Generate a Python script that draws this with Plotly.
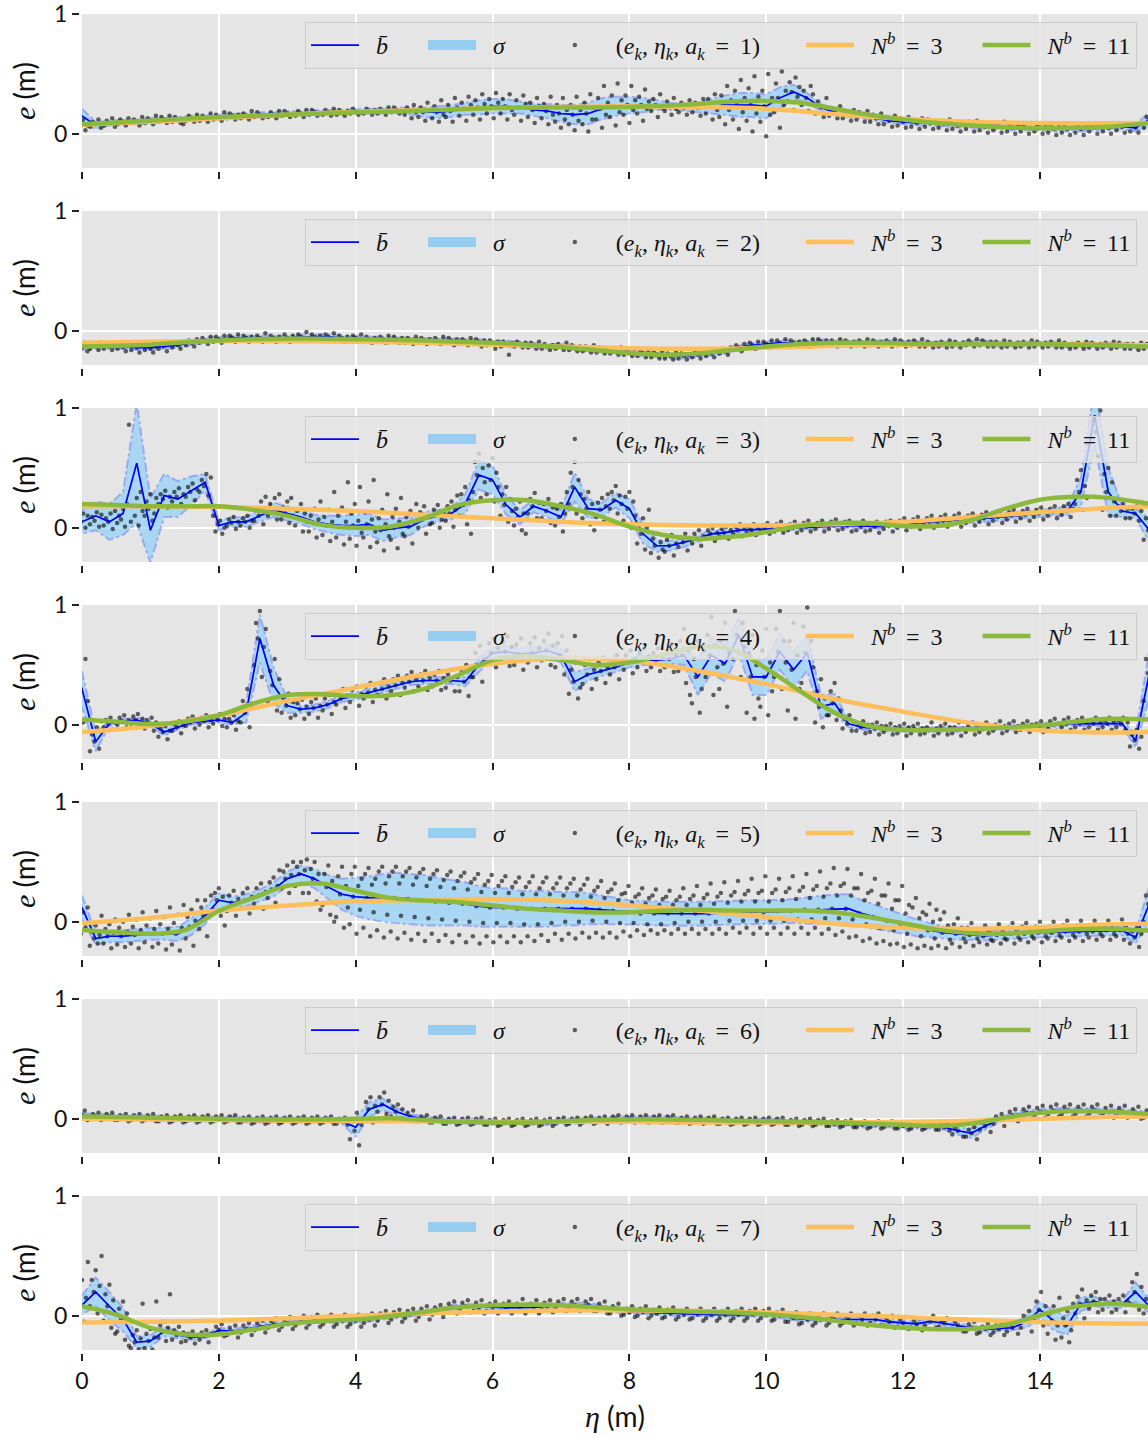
import plotly.graph_objects as go
from plotly.subplots import make_subplots

# ---------------------------------------------------------------------------
# Data: binned mean offset, spread, samples and the two spline fits per action
# ---------------------------------------------------------------------------
ETA = [0.0, 0.2, 0.4, 0.6, 0.8, 1.0, 1.2, 1.4, 1.6, 1.8,
       2.0, 2.2, 2.4, 2.6, 2.8, 3.0, 3.2, 3.4, 3.6, 3.8,
       4.0, 4.2, 4.4, 4.6, 4.8, 5.0, 5.2, 5.4, 5.6, 5.8,
       6.0, 6.2, 6.4, 6.6, 6.8, 7.0, 7.2, 7.4, 7.6, 7.8,
       8.0, 8.2, 8.4, 8.6, 8.8, 9.0, 9.2, 9.4, 9.6, 9.8,
       10.0, 10.2, 10.4, 10.6, 10.8, 11.0, 11.2, 11.4, 11.6, 11.8,
       12.0, 12.2, 12.4, 12.6, 12.8, 13.0, 13.2, 13.4, 13.6, 13.8,
       14.0, 14.2, 14.4, 14.6, 14.8, 15.0, 15.2, 15.4, 15.6]
BIN_WIDTH = 0.2

ETA_N3 = [0, 1, 2, 3, 4, 5, 6, 7, 8, 9, 10, 11, 12, 13, 14, 15, 15.6]
ETA_N11 = [0, 0.5, 1, 1.5, 2, 2.5, 3, 3.5, 4, 4.5, 5, 5.5, 6, 6.5, 7, 7.5,
           8, 8.5, 9, 9.5, 10, 10.5, 11, 11.5, 12, 12.5, 13, 13.5, 14, 14.5,
           15, 15.5, 15.6]

ACTIONS = [1, 2, 3, 4, 5, 6, 7]
X_TICKS = [0, 2, 4, 6, 8, 10, 12, 14]
Y_TICKS = [0, 1]

# ----- a_k = 1 -----
MEAN_A1 = [0.15, 0.07, 0.09, 0.10, 0.10, 0.11, 0.12, 0.12, 0.13, 0.13,
           0.14, 0.15, 0.15, 0.16, 0.16, 0.17, 0.17, 0.18, 0.18, 0.18,
           0.19, 0.19, 0.19, 0.20, 0.19, 0.18, 0.18, 0.19, 0.21, 0.22,
           0.23, 0.23, 0.22, 0.20, 0.19, 0.17, 0.16, 0.17, 0.21, 0.23,
           0.24, 0.24, 0.24, 0.23, 0.22, 0.22, 0.23, 0.24, 0.24, 0.24,
           0.23, 0.30, 0.35, 0.30, 0.22, 0.18, 0.16, 0.15, 0.13, 0.11,
           0.10, 0.09, 0.09, 0.08, 0.07, 0.07, 0.06, 0.06, 0.05, 0.05,
           0.05, 0.04, 0.04, 0.04, 0.05, 0.05, 0.06, 0.05, 0.12]
SIGMA_A1 = [0.06, 0.03, 0.02, 0.02, 0.02, 0.02, 0.02, 0.02, 0.02, 0.02,
            0.02, 0.02, 0.02, 0.02, 0.02, 0.02, 0.02, 0.02, 0.02, 0.02,
            0.02, 0.02, 0.02, 0.02, 0.03, 0.04, 0.05, 0.05, 0.05, 0.06,
            0.06, 0.06, 0.05, 0.05, 0.06, 0.07, 0.08, 0.09, 0.09, 0.08,
            0.07, 0.06, 0.04, 0.03, 0.03, 0.04, 0.06, 0.08, 0.10, 0.10,
            0.10, 0.09, 0.06, 0.04, 0.03, 0.02, 0.02, 0.02, 0.02, 0.02,
            0.02, 0.02, 0.02, 0.02, 0.02, 0.02, 0.02, 0.02, 0.02, 0.02,
            0.02, 0.02, 0.02, 0.02, 0.02, 0.02, 0.02, 0.03, 0.06]
DOTS_A1 = [
    "0.01 0.05 0.09 0.12 0.03 0.07|0.06 0.10 0.08 0.12 0.05|0.07 0.11 0.09 0.13 0.06|0.08 0.12 0.10 0.07 0.13|0.09 0.12 0.10 0.07 0.14|0.09 0.13 0.11 0.08 0.15|0.10 0.14 0.12 0.09 0.15|0.10 0.14 0.12 0.09 0.08|0.11 0.15 0.13 0.10 0.16|0.11 0.15 0.13 0.10 0.17",
    "0.12 0.16 0.14 0.11 0.18|0.13 0.17 0.15 0.12 0.16|0.13 0.17 0.15 0.12 0.19|0.14 0.18 0.16 0.13 0.15|0.14 0.18 0.16 0.13 0.19|0.15 0.19 0.17 0.14 0.16|0.15 0.19 0.17 0.14 0.20|0.16 0.20 0.18 0.15 0.17|0.16 0.20 0.18 0.15 0.21|0.16 0.20 0.18 0.15 0.19",
    "0.17 0.21 0.19 0.16 0.18|0.17 0.21 0.19 0.16 0.20|0.17 0.21 0.19 0.16 0.22|0.18 0.22 0.20 0.17 0.19|0.16 0.22 0.19 0.13 0.24 0.18|0.14 0.22 0.18 0.11 0.26 0.20|0.13 0.23 0.18 0.10 0.28 0.16|0.14 0.24 0.19 0.10 0.30 0.22|0.15 0.26 0.21 0.11 0.31 0.24|0.16 0.28 0.22 0.12 0.33 0.25",
    "0.17 0.29 0.23 0.13 0.34 0.26|0.17 0.29 0.23 0.12 0.33 0.20|0.16 0.28 0.22 0.11 0.32 0.25|0.14 0.26 0.20 0.09 0.30 0.23|0.13 0.25 0.19 0.08 0.31 0.16|0.10 0.24 0.17 0.05 0.30 0.12 0.20|0.08 0.24 0.16 0.03 0.31 0.11 0.20|0.08 0.26 0.17 0.02 0.33 0.12 0.22|0.12 0.30 0.21 0.05 0.40 0.16 0.26|0.14 0.32 0.23 0.07 0.42 0.18 0.28",
    "0.16 0.32 0.24 0.09 0.40 0.20 0.28|0.17 0.31 0.24 0.11 0.37 0.21 0.27|0.19 0.29 0.24 0.14 0.33 0.22|0.19 0.27 0.23 0.16 0.30 0.21|0.18 0.26 0.22 0.16 0.28|0.18 0.26 0.22 0.15 0.29|0.17 0.29 0.23 0.12 0.33 0.20|0.14 0.32 0.24 0.08 0.40 0.20 0.28|0.12 0.36 0.24 0.04 0.45 0.18 0.30|0.11 0.38 0.24 0.02 0.48 0.17 0.31",
    "0.10 0.36 0.23 -0.02 0.50 0.16 0.30|0.18 0.42 0.30 0.05 0.52 0.24 0.36|0.27 0.43 0.35 0.20 0.47 0.31 0.39|0.24 0.36 0.30 0.19 0.40 0.33|0.17 0.27 0.22 0.14 0.30|0.15 0.21 0.18 0.13 0.23|0.13 0.19 0.16 0.11 0.20|0.12 0.18 0.15 0.10 0.19|0.10 0.16 0.13 0.08 0.17|0.08 0.14 0.11 0.06 0.15",
    "0.07 0.13 0.10 0.05 0.14|0.06 0.12 0.09 0.04 0.13|0.06 0.12 0.09 0.04 0.11|0.05 0.11 0.08 0.03 0.12|0.04 0.10 0.07 0.02 0.09|0.04 0.10 0.07 0.02 0.11|0.03 0.09 0.06 0.01 0.08|0.03 0.09 0.06 0.01 0.10|0.02 0.08 0.05 0.00 0.07|0.02 0.08 0.05 0.00 0.09",
    "0.02 0.08 0.05 0.00 0.06|0.01 0.07 0.04 -0.01 0.08|0.01 0.07 0.04 -0.01 0.05|0.01 0.07 0.04 -0.01 0.08|0.02 0.08 0.05 0.00 0.06|0.02 0.08 0.05 0.00 0.09|0.03 0.09 0.06 0.01 0.07|0.02 0.08 0.05 0.01 0.09|0.05 0.14 0.10 0.03 0.16",
]
FIT3_A1 = [0.075, 0.10, 0.13, 0.16, 0.185, 0.20, 0.215, 0.225, 0.23, 0.225,
           0.21, 0.165, 0.125, 0.10, 0.09, 0.088, 0.09]
FIT11_A1 = [0.08, 0.095, 0.11, 0.125, 0.14, 0.15, 0.16, 0.17, 0.18, 0.185,
            0.195, 0.205, 0.215, 0.22, 0.22, 0.22, 0.225, 0.235, 0.25, 0.27,
            0.275, 0.26, 0.21, 0.16, 0.12, 0.09, 0.07, 0.055, 0.047, 0.05,
            0.06, 0.085, 0.09]

# ----- a_k = 2 -----
MEAN_A2 = [-0.14, -0.13, -0.13, -0.13, -0.14, -0.14, -0.13, -0.12, -0.10, -0.08,
           -0.07, -0.06, -0.06, -0.06, -0.06, -0.06, -0.05, -0.05, -0.05, -0.06,
           -0.06, -0.07, -0.07, -0.07, -0.08, -0.08, -0.08, -0.08, -0.09, -0.09,
           -0.10, -0.11, -0.11, -0.12, -0.13, -0.13, -0.14, -0.15, -0.16, -0.17,
           -0.18, -0.19, -0.20, -0.21, -0.21, -0.20, -0.19, -0.17, -0.14, -0.12,
           -0.11, -0.10, -0.10, -0.10, -0.09, -0.10, -0.10, -0.10, -0.10, -0.10,
           -0.10, -0.10, -0.11, -0.11, -0.11, -0.10, -0.10, -0.11, -0.11, -0.11,
           -0.11, -0.11, -0.12, -0.12, -0.12, -0.12, -0.12, -0.13, -0.13]
SIGMA_A2 = [0.02, 0.02, 0.02, 0.02, 0.02, 0.02, 0.02, 0.02, 0.02, 0.02,
            0.02, 0.02, 0.02, 0.02, 0.02, 0.02, 0.02, 0.02, 0.02, 0.02,
            0.02, 0.02, 0.02, 0.02, 0.02, 0.02, 0.02, 0.02, 0.02, 0.02,
            0.02, 0.03, 0.02, 0.02, 0.02, 0.02, 0.02, 0.02, 0.02, 0.02,
            0.02, 0.02, 0.02, 0.02, 0.02, 0.02, 0.02, 0.02, 0.02, 0.02,
            0.02, 0.02, 0.02, 0.02, 0.02, 0.02, 0.02, 0.02, 0.02, 0.02,
            0.02, 0.02, 0.02, 0.02, 0.02, 0.02, 0.02, 0.02, 0.02, 0.02,
            0.02, 0.02, 0.02, 0.02, 0.02, 0.02, 0.02, 0.02, 0.02]
DOTS_A2 = [
    "-0.16 -0.12 -0.14 -0.10 -0.17|-0.15 -0.11 -0.13 -0.16 -0.10|-0.15 -0.11 -0.13 -0.16 -0.12|-0.15 -0.11 -0.14 -0.17 -0.12|-0.16 -0.12 -0.14 -0.18 -0.11|-0.16 -0.12 -0.15 -0.18 -0.13|-0.15 -0.11 -0.13 -0.17 -0.10|-0.14 -0.10 -0.12 -0.15 -0.09|-0.12 -0.08 -0.10 -0.13 -0.07|-0.10 -0.06 -0.08 -0.11 -0.05",
    "-0.09 -0.05 -0.07 -0.10 -0.04|-0.08 -0.04 -0.06 -0.09 -0.03|-0.08 -0.04 -0.06 -0.09 -0.05|-0.08 -0.04 -0.06 -0.09 -0.02|-0.08 -0.04 -0.06 -0.09 -0.05|-0.08 -0.03 -0.06 -0.09 -0.04|-0.07 -0.03 -0.05 -0.08 -0.01|-0.07 -0.03 -0.05 -0.08 -0.04|-0.07 -0.03 -0.05 -0.08 -0.02|-0.08 -0.04 -0.06 -0.09 -0.05",
    "-0.08 -0.04 -0.06 -0.09 -0.03|-0.09 -0.05 -0.07 -0.10 -0.06|-0.09 -0.05 -0.07 -0.10 -0.04|-0.09 -0.05 -0.07 -0.10 -0.06|-0.10 -0.06 -0.08 -0.11 -0.05|-0.10 -0.06 -0.08 -0.11 -0.07|-0.10 -0.06 -0.08 -0.11 -0.05|-0.10 -0.06 -0.08 -0.12 -0.07|-0.11 -0.07 -0.09 -0.12 -0.06|-0.11 -0.07 -0.09 -0.13 -0.08",
    "-0.12 -0.08 -0.10 -0.15 -0.09|-0.13 -0.09 -0.11 -0.20 -0.10|-0.13 -0.09 -0.11 -0.14 -0.10|-0.14 -0.10 -0.12 -0.15 -0.09|-0.15 -0.11 -0.13 -0.16 -0.12|-0.15 -0.11 -0.13 -0.16 -0.10|-0.16 -0.12 -0.14 -0.17 -0.13|-0.17 -0.13 -0.15 -0.18 -0.12|-0.18 -0.14 -0.16 -0.19 -0.15|-0.19 -0.15 -0.17 -0.20 -0.14",
    "-0.20 -0.16 -0.18 -0.21 -0.15|-0.21 -0.17 -0.19 -0.22 -0.16|-0.22 -0.18 -0.20 -0.23 -0.17|-0.23 -0.19 -0.21 -0.24 -0.18|-0.23 -0.19 -0.21 -0.24 -0.20|-0.22 -0.18 -0.20 -0.23 -0.17|-0.21 -0.17 -0.19 -0.22 -0.16|-0.19 -0.15 -0.17 -0.20 -0.14|-0.16 -0.12 -0.14 -0.17 -0.11|-0.14 -0.10 -0.12 -0.15 -0.09",
    "-0.13 -0.09 -0.11 -0.14 -0.08|-0.12 -0.08 -0.10 -0.13 -0.07|-0.12 -0.08 -0.10 -0.13 -0.09|-0.12 -0.08 -0.10 -0.13 -0.07|-0.11 -0.07 -0.09 -0.12 -0.08|-0.12 -0.08 -0.10 -0.13 -0.07|-0.12 -0.08 -0.10 -0.13 -0.09|-0.12 -0.08 -0.10 -0.13 -0.07|-0.12 -0.08 -0.10 -0.13 -0.09|-0.12 -0.08 -0.10 -0.13 -0.07",
    "-0.12 -0.08 -0.10 -0.13 -0.09|-0.12 -0.08 -0.10 -0.13 -0.07|-0.13 -0.09 -0.11 -0.14 -0.10|-0.13 -0.09 -0.11 -0.14 -0.08|-0.13 -0.09 -0.11 -0.14 -0.10|-0.12 -0.08 -0.10 -0.13 -0.07|-0.12 -0.08 -0.10 -0.13 -0.09|-0.13 -0.09 -0.11 -0.14 -0.08|-0.13 -0.09 -0.11 -0.14 -0.10|-0.13 -0.09 -0.11 -0.14 -0.08",
    "-0.13 -0.09 -0.11 -0.14 -0.10|-0.13 -0.09 -0.11 -0.14 -0.08|-0.14 -0.10 -0.12 -0.15 -0.11|-0.14 -0.10 -0.12 -0.15 -0.09|-0.14 -0.10 -0.12 -0.15 -0.11|-0.14 -0.10 -0.12 -0.15 -0.09|-0.14 -0.10 -0.12 -0.15 -0.11|-0.15 -0.11 -0.13 -0.16 -0.10|-0.15 -0.11 -0.13 -0.16 -0.12",
]
FIT3_A2 = [-0.10, -0.09, -0.085, -0.085, -0.09, -0.10, -0.115, -0.13, -0.145,
           -0.15, -0.14, -0.125, -0.115, -0.11, -0.11, -0.115, -0.12]
FIT11_A2 = [-0.13, -0.125, -0.115, -0.095, -0.08, -0.07, -0.065, -0.065, -0.07,
            -0.075, -0.08, -0.09, -0.10, -0.115, -0.135, -0.16, -0.185, -0.20,
            -0.19, -0.16, -0.13, -0.11, -0.10, -0.10, -0.105, -0.11, -0.11,
            -0.11, -0.11, -0.115, -0.12, -0.13, -0.13]

# ----- a_k = 3 -----
MEAN_A3 = [0.05, 0.10, 0.05, 0.12, 0.54, -0.02, 0.27, 0.24, 0.31, 0.38,
           0.02, 0.05, 0.05, 0.10, 0.15, 0.12, 0.09, 0.05, 0.03, 0.02,
           0.02, 0.03, -0.02, 0.00, 0.01, 0.07, 0.10, 0.12, 0.20, 0.44,
           0.40, 0.19, 0.09, 0.18, 0.14, 0.09, 0.34, 0.16, 0.15, 0.23,
           0.16, -0.05, -0.15, -0.15, -0.12, -0.09, -0.05, -0.04, -0.02, -0.015,
           -0.005, 0.00, 0.005, 0.01, 0.015, 0.02, 0.02, 0.015, 0.01, 0.02,
           0.025, 0.04, 0.05, 0.06, 0.065, 0.07, 0.08, 0.09, 0.10, 0.11,
           0.12, 0.13, 0.14, 0.30, 0.94, 0.30, 0.14, 0.12, -0.02]
SIGMA_A3 = [0.10, 0.12, 0.15, 0.18, 0.50, 0.27, 0.18, 0.15, 0.12, 0.07,
            0.04, 0.04, 0.04, 0.05, 0.06, 0.06, 0.06, 0.06, 0.07, 0.08,
            0.09, 0.09, 0.09, 0.08, 0.07, 0.06, 0.05, 0.05, 0.08, 0.12,
            0.12, 0.08, 0.06, 0.05, 0.05, 0.06, 0.12, 0.08, 0.06, 0.06,
            0.08, 0.08, 0.05, 0.04, 0.04, 0.03, 0.03, 0.03, 0.02, 0.02,
            0.02, 0.02, 0.02, 0.02, 0.02, 0.02, 0.02, 0.02, 0.02, 0.02,
            0.02, 0.02, 0.02, 0.02, 0.02, 0.03, 0.03, 0.03, 0.03, 0.03,
            0.03, 0.03, 0.04, 0.12, 0.25, 0.20, 0.05, 0.04, 0.10]
DOTS_A3 = [
    "0.02 0.08 0.05 0.12 0.00 0.10|0.03 0.09 0.06 0.13 0.01 0.11|0.02 0.08 0.05 0.12 -0.01 0.14|0.04 0.10 0.07 0.16 0.01 0.20 0.86|0.05 0.18 0.10 0.25 0.02 0.30 0.14|0.10 0.22 0.16 0.28 0.06 0.12 0.25|0.20 0.28 0.24 0.31 0.17 0.26|0.22 0.30 0.26 0.33 0.20 0.28|0.26 0.34 0.30 0.37 0.23 0.32|0.30 0.40 0.35 0.45 0.27 0.42",
    "0.10 -0.03 0.03 0.06 -0.05 0.00|0.02 0.07 0.04 0.09 -0.01 0.05|0.02 0.08 0.05 0.10 0.00 0.06|0.06 0.16 0.10 0.22 0.03 0.26|0.10 0.20 0.15 0.25 0.07 0.28|0.07 0.17 0.12 0.22 0.04 0.25 0.10|0.02 0.14 0.08 0.20 -0.03 0.12 0.05|-0.03 0.10 0.04 0.16 -0.08 0.07 0.22|-0.06 0.09 0.02 0.15 -0.11 0.05 0.30|-0.08 0.10 0.01 0.17 -0.14 0.05 0.38",
    "-0.09 0.12 0.02 0.20 -0.15 0.06 0.34 -0.04|-0.08 0.13 0.03 0.22 -0.16 0.07 0.40 -0.03|-0.12 0.08 -0.02 0.15 -0.19 0.03 0.28 -0.07|-0.10 0.09 0.00 0.16 -0.17 0.05 0.25 -0.05|-0.07 0.09 0.01 0.14 -0.13 0.05 0.20|0.00 0.13 0.07 0.18 -0.05 0.10 0.03|0.04 0.15 0.10 0.19 0.00 0.07 0.13|0.06 0.18 0.12 0.22 0.01 0.15 0.27|0.10 0.28 0.19 0.34 0.03 0.23 -0.05|0.30 0.55 0.44 0.62 0.25 0.50 0.38",
    "0.28 0.52 0.40 0.58 0.22 0.46 0.34|0.10 0.28 0.19 0.34 0.05 0.24 0.14|0.02 0.16 0.09 0.22 -0.02 0.12 -0.05|0.12 0.24 0.18 0.29 0.08 0.21|0.08 0.20 0.14 0.24 0.04 0.17|0.02 0.16 0.09 0.20 -0.03 0.12 0.30|0.20 0.46 0.34 0.55 0.12 0.40 0.28|0.08 0.24 0.16 0.30 0.03 0.20 -0.02|0.09 0.21 0.15 0.25 0.05 0.18 0.28|0.16 0.30 0.23 0.35 0.12 0.27 0.20",
    "0.06 0.26 0.16 0.30 0.00 0.22 0.10|-0.13 0.03 -0.05 0.08 -0.18 0.00 0.15|-0.21 -0.09 -0.15 -0.05 -0.25 -0.12 -0.18|-0.20 -0.10 -0.15 -0.06 -0.23 -0.13|-0.16 -0.08 -0.12 -0.05 -0.19 -0.10|-0.13 -0.05 -0.09 -0.02 -0.15 -0.07|-0.09 -0.02 -0.05 0.00 -0.11 -0.04|-0.07 -0.01 -0.04 0.01 -0.09 -0.02|-0.05 0.01 -0.02 0.03 -0.07 0.00|-0.04 0.01 -0.02 0.03 -0.06 0.00",
    "-0.03 0.02 -0.01 0.04 -0.05 0.01|-0.03 0.03 0.00 0.05 -0.04 0.01|-0.02 0.03 0.00 0.05 -0.04 0.02|-0.02 0.04 0.01 0.06 -0.03 0.02|-0.01 0.04 0.02 0.06 -0.03 0.03|-0.01 0.05 0.02 0.07 -0.02 0.03|-0.01 0.05 0.02 0.06 -0.03 0.04|-0.02 0.04 0.01 0.06 -0.03 0.03|-0.02 0.04 0.01 0.05 -0.04 0.02|-0.01 0.05 0.02 0.06 -0.03 0.03",
    "0.00 0.06 0.03 0.08 -0.02 0.04|0.01 0.07 0.04 0.09 -0.01 0.05|0.02 0.08 0.05 0.10 0.00 0.06|0.03 0.09 0.06 0.11 0.01 0.07|0.03 0.10 0.06 0.12 0.01 0.08|0.04 0.10 0.07 0.12 0.02 0.08|0.05 0.11 0.08 0.13 0.03 0.09|0.06 0.12 0.09 0.14 0.04 0.10|0.07 0.13 0.10 0.15 0.05 0.11|0.08 0.14 0.11 0.16 0.06 0.12",
    "0.09 0.15 0.12 0.17 0.07 0.13|0.10 0.16 0.13 0.18 0.08 0.14|0.11 0.18 0.14 0.20 0.09 0.16|0.20 0.40 0.30 0.48 0.15 0.35 0.25|0.70 1.05 0.90 0.80 0.60 0.98|0.15 0.45 0.30 0.50 0.10 0.38 0.22|0.10 0.18 0.14 0.20 0.08 0.16|0.08 0.16 0.12 0.18 0.06 0.14|-0.10 0.08 -0.02 0.12 -0.12 0.04",
]
FIT3_A3 = [0.18, 0.18, 0.175, 0.16, 0.14, 0.11, 0.08, 0.05, 0.03, 0.02,
           0.02, 0.03, 0.05, 0.09, 0.13, 0.165, 0.18]
FIT11_A3 = [0.20, 0.19, 0.18, 0.18, 0.18, 0.15, 0.10, 0.025, 0.0, 0.01,
            0.08, 0.19, 0.23, 0.23, 0.18, 0.11, 0.01, -0.06, -0.09, -0.075,
            -0.035, 0.015, 0.04, 0.04, 0.015, 0.015, 0.065, 0.16, 0.235, 0.26,
            0.25, 0.21, 0.20]

# ----- a_k = 4 -----
MEAN_A4 = [0.30, -0.14, 0.01, 0.03, 0.04, 0.01, -0.06, -0.02, 0.02, 0.03,
           0.04, 0.02, 0.10, 0.72, 0.33, 0.16, 0.13, 0.14, 0.17, 0.22,
           0.24, 0.27, 0.30, 0.33, 0.36, 0.37, 0.37, 0.37, 0.36, 0.50,
           0.60, 0.61, 0.59, 0.60, 0.62, 0.58, 0.36, 0.42, 0.45, 0.48,
           0.52, 0.54, 0.54, 0.55, 0.58, 0.40, 0.58, 0.51, 0.75, 0.40,
           0.40, 0.61, 0.46, 0.60, 0.15, 0.18, 0.01, -0.02, -0.03, -0.035,
           -0.04, -0.04, -0.04, -0.04, -0.04, -0.035, -0.03, -0.025, -0.02, -0.015,
           -0.015, 0.00, 0.01, 0.01, 0.01, 0.01, 0.01, -0.13, 0.43]
SIGMA_A4 = [0.15, 0.08, 0.02, 0.02, 0.02, 0.02, 0.03, 0.02, 0.02, 0.02,
            0.02, 0.02, 0.08, 0.20, 0.15, 0.06, 0.03, 0.03, 0.03, 0.03,
            0.03, 0.03, 0.03, 0.03, 0.03, 0.03, 0.03, 0.03, 0.04, 0.06,
            0.05, 0.05, 0.05, 0.05, 0.05, 0.06, 0.08, 0.05, 0.04, 0.04,
            0.04, 0.04, 0.04, 0.04, 0.08, 0.15, 0.15, 0.15, 0.15, 0.15,
            0.15, 0.15, 0.15, 0.15, 0.10, 0.08, 0.03, 0.02, 0.02, 0.02,
            0.02, 0.02, 0.02, 0.02, 0.02, 0.02, 0.02, 0.02, 0.02, 0.02,
            0.02, 0.02, 0.02, 0.02, 0.02, 0.02, 0.02, 0.06, 0.20]
DOTS_A4 = [
    "0.10 0.45 0.30 0.02 0.55 0.20|-0.22 -0.08 -0.14 -0.02 -0.20 0.03|-0.02 0.04 0.01 0.06 -0.04 0.02|0.00 0.06 0.03 0.08 -0.02 0.04|0.01 0.07 0.04 0.09 -0.01 0.05|-0.03 0.04 0.01 0.06 -0.05 0.02|-0.10 -0.03 -0.06 -0.01 -0.12 -0.05|-0.05 0.01 -0.02 0.03 -0.07 0.00|-0.01 0.05 0.02 0.07 -0.03 0.03|0.00 0.06 0.03 0.08 -0.02 0.04",
    "0.01 0.07 0.04 0.09 -0.01 0.05|-0.02 0.05 0.02 0.08 -0.04 0.03|0.02 0.20 0.10 0.30 -0.02 0.15|0.50 0.85 0.72 0.95 0.40 0.65 0.80|0.20 0.45 0.33 0.55 0.12 0.38|0.10 0.22 0.16 0.26 0.06 0.19|0.08 0.18 0.13 0.21 0.05 0.15|0.09 0.19 0.14 0.22 0.06 0.16|0.12 0.22 0.17 0.25 0.09 0.19|0.17 0.27 0.22 0.30 0.14 0.24",
    "0.19 0.29 0.24 0.32 0.16 0.26|0.22 0.32 0.27 0.35 0.19 0.29|0.25 0.35 0.30 0.38 0.22 0.32|0.28 0.38 0.33 0.41 0.25 0.35|0.31 0.41 0.36 0.44 0.28 0.38|0.32 0.42 0.37 0.45 0.29 0.39|0.32 0.42 0.37 0.45 0.29 0.39|0.31 0.42 0.37 0.46 0.28 0.40|0.28 0.44 0.36 0.50 0.24 0.40|0.40 0.60 0.50 0.66 0.36 0.55",
    "0.52 0.68 0.60 0.72 0.48 0.64|0.53 0.69 0.61 0.74 0.49 0.65|0.50 0.67 0.59 0.72 0.46 0.55|0.52 0.68 0.60 0.73 0.48 0.64|0.54 0.70 0.62 0.76 0.50 0.66|0.48 0.68 0.58 0.74 0.42 0.62|0.26 0.46 0.36 0.52 0.22 0.31|0.34 0.50 0.42 0.55 0.30 0.46|0.38 0.52 0.45 0.56 0.35 0.48|0.42 0.54 0.48 0.58 0.38 0.51",
    "0.46 0.58 0.52 0.62 0.43 0.55|0.48 0.60 0.54 0.64 0.45 0.57|0.48 0.60 0.54 0.64 0.45 0.57|0.48 0.62 0.55 0.67 0.44 0.58|0.45 0.70 0.58 0.80 0.35 0.62 0.25|0.18 0.55 0.40 0.70 0.10 0.30 0.62|0.40 0.75 0.58 0.90 0.25 0.66 0.48|0.30 0.70 0.51 0.85 0.15 0.60 0.40|0.55 0.95 0.75 1.02 0.40 0.85 0.65|0.10 0.60 0.40 0.75 0.05 0.50 0.22",
    "0.15 0.62 0.40 0.80 0.08 0.52 0.28|0.40 0.80 0.61 0.95 0.30 0.70 0.52|0.12 0.70 0.46 0.85 0.05 0.58 0.30|0.35 0.82 0.60 0.98 0.25 0.70 0.48|0.02 0.28 0.15 0.38 -0.02 0.22 0.08|0.08 0.28 0.18 0.35 0.04 0.22 0.12|-0.03 0.05 0.01 0.08 -0.05 0.03|-0.05 0.01 -0.02 0.03 -0.07 0.00|-0.06 0.00 -0.03 0.02 -0.08 -0.01|-0.06 -0.01 -0.03 0.01 -0.08 -0.02",
    "-0.07 -0.01 -0.04 0.01 -0.09 -0.02|-0.07 -0.01 -0.04 0.01 -0.08 -0.03|-0.07 -0.02 -0.04 0.02 -0.09 -0.03|-0.07 -0.01 -0.04 0.01 -0.08 -0.02|-0.07 -0.02 -0.04 0.02 -0.09 -0.03|-0.06 -0.01 -0.03 0.02 -0.08 -0.02|-0.06 0.00 -0.03 0.02 -0.07 -0.02|-0.05 0.00 -0.02 0.03 -0.07 -0.01|-0.05 0.01 -0.02 0.03 -0.06 -0.01|-0.04 0.01 -0.01 0.03 -0.06 0.00",
    "-0.04 0.01 -0.02 0.03 -0.06 0.00|-0.03 0.03 0.00 0.05 -0.05 0.01|-0.02 0.04 0.01 0.06 -0.04 0.02|-0.02 0.04 0.01 0.06 -0.04 0.02|-0.02 0.04 0.01 0.06 -0.04 0.02|-0.02 0.04 0.01 0.06 -0.04 0.02|-0.02 0.04 0.01 0.06 -0.04 0.02|-0.18 -0.08 -0.13 -0.04 -0.20 -0.10|0.20 0.55 0.43 0.65 0.10 0.30",
]
FIT3_A4 = [-0.06, -0.01, 0.08, 0.20, 0.31, 0.42, 0.51, 0.555, 0.535, 0.45,
           0.34, 0.215, 0.11, 0.015, -0.045, -0.064, -0.06]
FIT11_A4 = [0.044, 0.025, 0.006, 0.025, 0.08, 0.178, 0.247, 0.256, 0.24, 0.247,
            0.30, 0.414, 0.54, 0.572, 0.54, 0.50, 0.52, 0.585, 0.65, 0.63,
            0.47, 0.28, 0.10, -0.01, -0.044, -0.042, -0.035, -0.022, -0.005, 0.025,
            0.05, 0.047, 0.045]

# ----- a_k = 5 -----
MEAN_A5 = [0.12, -0.14, -0.12, -0.12, -0.11, -0.10, -0.10, -0.10, -0.04, 0.05,
           0.18, 0.16, 0.18, 0.22, 0.27, 0.36, 0.40, 0.36, 0.29, 0.23,
           0.21, 0.20, 0.20, 0.20, 0.19, 0.18, 0.17, 0.16, 0.15, 0.13,
           0.12, 0.12, 0.11, 0.11, 0.11, 0.11, 0.11, 0.11, 0.10, 0.09,
           0.08, 0.075, 0.07, 0.067, 0.067, 0.067, 0.07, 0.075, 0.08, 0.08,
           0.08, 0.085, 0.09, 0.095, 0.10, 0.11, 0.11, 0.07, 0.04, 0.01,
           -0.02, -0.05, -0.07, -0.09, -0.10, -0.11, -0.115, -0.11, -0.10, -0.095,
           -0.09, -0.086, -0.08, -0.078, -0.075, -0.074, -0.072, -0.13, 0.15]
SIGMA_A5 = [0.10, 0.05, 0.05, 0.05, 0.05, 0.05, 0.05, 0.06, 0.07, 0.07,
            0.06, 0.05, 0.05, 0.05, 0.06, 0.06, 0.07, 0.08, 0.10, 0.13,
            0.16, 0.18, 0.20, 0.21, 0.21, 0.21, 0.20, 0.19, 0.18, 0.17,
            0.16, 0.16, 0.15, 0.15, 0.15, 0.14, 0.14, 0.13, 0.12, 0.11,
            0.10, 0.10, 0.10, 0.10, 0.10, 0.10, 0.10, 0.10, 0.10, 0.10,
            0.10, 0.10, 0.10, 0.11, 0.12, 0.12, 0.12, 0.11, 0.10, 0.09,
            0.08, 0.07, 0.06, 0.05, 0.05, 0.04, 0.04, 0.04, 0.04, 0.04,
            0.04, 0.04, 0.04, 0.04, 0.04, 0.04, 0.04, 0.05, 0.15]
DOTS_A5 = [
    "0.00 0.15 -0.10 0.08 -0.05 0.12|-0.20 -0.08 -0.14 -0.03 -0.18 -0.11 0.05|-0.18 -0.06 -0.12 -0.02 -0.22 -0.09 0.02|-0.19 -0.05 -0.12 0.00 -0.21 -0.08 0.06|-0.18 -0.04 -0.11 0.02 -0.22 -0.07 0.08|-0.17 -0.03 -0.10 0.03 -0.21 -0.06 0.09|-0.18 -0.02 -0.10 0.04 -0.23 -0.06 0.12|-0.19 -0.01 -0.10 0.06 -0.24 -0.05 0.14|-0.14 0.04 -0.04 0.10 -0.20 0.01 0.18|-0.06 0.12 0.05 0.18 -0.12 0.08 0.22",
    "0.10 0.24 0.18 0.28 0.05 0.21 -0.03|0.09 0.22 0.16 0.26 0.05 0.19|0.11 0.24 0.18 0.28 0.07 0.21|0.15 0.28 0.22 0.32 0.11 0.25|0.20 0.33 0.27 0.37 0.16 0.30 0.43|0.28 0.42 0.36 0.47 0.24 0.39 0.50|0.30 0.46 0.40 0.50 0.24 0.43 0.52|0.24 0.44 0.36 0.50 0.17 0.40 0.10|0.14 0.40 0.29 0.47 0.06 0.34 0.00|0.04 0.38 0.23 0.46 -0.05 0.30 0.12",
    "-0.02 0.40 0.21 0.46 -0.10 0.30 0.10 0.36|-0.05 0.40 0.20 0.45 -0.12 0.31 0.08 0.36|-0.07 0.42 0.20 0.46 -0.13 0.32 0.06 0.38|-0.08 0.42 0.20 0.46 -0.14 0.32 0.05 0.38|-0.09 0.42 0.19 0.45 -0.15 0.31 0.04 0.37|-0.10 0.41 0.18 0.44 -0.16 0.30 0.03 0.36|-0.10 0.40 0.17 0.43 -0.16 0.29 0.02 0.35|-0.11 0.39 0.16 0.42 -0.17 0.28 0.01 0.34|-0.11 0.38 0.15 0.41 -0.17 0.27 0.00 0.33|-0.12 0.36 0.13 0.40 -0.18 0.25 -0.01 0.31",
    "-0.12 0.34 0.12 0.39 -0.17 0.24 -0.01 0.30|-0.12 0.34 0.12 0.38 -0.17 0.24 -0.01 0.29|-0.12 0.33 0.11 0.37 -0.17 0.23 -0.02 0.29|-0.12 0.33 0.11 0.38 -0.16 0.23 -0.02 0.28|-0.11 0.33 0.11 0.37 -0.16 0.23 -0.01 0.28|-0.10 0.32 0.11 0.37 -0.15 0.22 0.00 0.28|-0.10 0.32 0.11 0.36 -0.14 0.22 0.00 0.27|-0.09 0.31 0.11 0.36 -0.13 0.21 0.01 0.26|-0.09 0.29 0.10 0.34 -0.13 0.20 0.00 0.25|-0.09 0.27 0.09 0.32 -0.13 0.18 -0.01 0.23",
    "-0.08 0.24 0.08 0.30 -0.12 0.16 -0.01 0.21|-0.07 0.23 0.07 0.28 -0.11 0.15 -0.02 0.20|-0.07 0.22 0.07 0.27 -0.10 0.14 -0.02 0.19|-0.07 0.21 0.07 0.26 -0.10 0.14 -0.01 0.18|-0.06 0.21 0.07 0.28 -0.10 0.14 0.00 0.19|-0.06 0.22 0.07 0.30 -0.10 0.14 0.00 0.20|-0.06 0.23 0.07 0.32 -0.10 0.15 0.00 0.21|-0.06 0.24 0.08 0.33 -0.10 0.16 0.01 0.22|-0.05 0.25 0.08 0.34 -0.09 0.17 0.01 0.23|-0.05 0.26 0.08 0.36 -0.10 0.17 0.01 0.24",
    "-0.05 0.26 0.08 0.38 -0.10 0.17 0.01 0.24|-0.05 0.27 0.09 0.36 -0.10 0.18 0.01 0.25|-0.05 0.28 0.09 0.38 -0.10 0.19 0.02 0.26|-0.05 0.29 0.10 0.40 -0.10 0.20 0.02 0.27|-0.05 0.30 0.10 0.42 -0.10 0.21 0.03 0.28|-0.06 0.32 0.11 0.45 -0.11 0.22 0.03 0.30|-0.08 0.32 0.11 0.44 -0.13 0.22 0.02 0.28|-0.12 0.28 0.07 0.40 -0.16 0.18 -0.02 0.24|-0.14 0.26 0.04 0.36 -0.18 0.15 -0.05 0.22|-0.16 0.22 0.01 0.32 -0.19 0.11 -0.07 0.18",
    "-0.18 0.18 -0.02 0.30 -0.21 0.07 -0.10 0.14|-0.19 0.12 -0.05 0.20 -0.22 0.03 -0.12 0.08|-0.20 0.06 -0.07 0.15 -0.22 0.00 -0.14 0.10|-0.20 0.02 -0.09 0.08 -0.22 -0.03 -0.15|-0.18 -0.02 -0.10 0.03 -0.21 -0.05 -0.14|-0.17 -0.05 -0.11 -0.01 -0.20 -0.07 -0.14|-0.17 -0.06 -0.12 -0.03 -0.19 -0.08 -0.15|-0.16 -0.06 -0.11 -0.02 -0.18 -0.08 -0.14|-0.15 -0.05 -0.10 -0.01 -0.18 -0.07 -0.13|-0.15 -0.04 -0.10 -0.01 -0.17 -0.06 -0.12",
    "-0.14 -0.04 -0.09 0.00 -0.17 -0.06 -0.12|-0.14 -0.04 -0.09 0.00 -0.16 -0.06 -0.11|-0.13 -0.03 -0.08 0.01 -0.16 -0.05 -0.11|-0.13 -0.03 -0.08 0.01 -0.16 -0.05 -0.10|-0.13 -0.03 -0.08 0.01 -0.15 -0.05 -0.10|-0.12 -0.03 -0.07 0.01 -0.15 -0.05 -0.10|-0.12 -0.02 -0.07 0.02 -0.15 -0.04 -0.10|-0.18 -0.08 -0.13 -0.05 -0.21 -0.10|0.00 0.22 0.15 0.30 -0.05 0.10",
]
FIT3_A5 = [-0.01, 0.033, 0.094, 0.136, 0.172, 0.183, 0.19, 0.175, 0.138, 0.095,
           0.04, -0.015, -0.05, -0.058, -0.045, -0.02, -0.017]
FIT11_A5 = [-0.067, -0.086, -0.10, -0.07, 0.09, 0.20, 0.30, 0.32, 0.26, 0.20,
            0.178, 0.164, 0.136, 0.11, 0.094, 0.078, 0.08, 0.092, 0.10, 0.095,
            0.094, 0.094, 0.08, 0.04, -0.012, -0.065, -0.095, -0.098, -0.08, -0.062,
            -0.058, -0.07, -0.072]

# ----- a_k = 6 -----
MEAN_A6 = [0.03, 0.02, 0.02, 0.01, 0.01, 0.01, 0.00, 0.00, 0.00, 0.00,
           0.00, 0.00, -0.01, -0.01, -0.01, -0.01, -0.01, -0.01, -0.01, -0.02,
           -0.07, 0.08, 0.12, 0.06, 0.02, 0.00, -0.01, -0.02, -0.02, -0.02,
           -0.03, -0.03, -0.03, -0.03, -0.03, -0.02, -0.02, -0.01, -0.01, 0.00,
           0.00, 0.00, 0.00, 0.00, -0.01, -0.01, -0.01, -0.02, -0.02, -0.02,
           -0.02, -0.02, -0.03, -0.03, -0.03, -0.04, -0.04, -0.05, -0.05, -0.05,
           -0.06, -0.06, -0.06, -0.07, -0.10, -0.12, -0.06, -0.01, 0.03, 0.05,
           0.06, 0.07, 0.07, 0.07, 0.07, 0.06, 0.06, 0.05, 0.04]
SIGMA_A6 = [0.02, 0.02, 0.02, 0.02, 0.02, 0.02, 0.02, 0.02, 0.02, 0.02,
            0.02, 0.02, 0.02, 0.02, 0.02, 0.02, 0.02, 0.02, 0.02, 0.02,
            0.08, 0.06, 0.05, 0.03, 0.02, 0.02, 0.02, 0.02, 0.02, 0.02,
            0.02, 0.02, 0.02, 0.02, 0.02, 0.02, 0.02, 0.02, 0.02, 0.02,
            0.02, 0.02, 0.02, 0.02, 0.02, 0.02, 0.02, 0.02, 0.02, 0.02,
            0.02, 0.02, 0.02, 0.02, 0.02, 0.02, 0.02, 0.02, 0.02, 0.02,
            0.02, 0.02, 0.02, 0.02, 0.03, 0.04, 0.03, 0.02, 0.02, 0.02,
            0.02, 0.02, 0.02, 0.02, 0.02, 0.02, 0.02, 0.02, 0.02]
DOTS_A6 = [
    "0.01 0.05 0.03 0.07 -0.01|0.00 0.04 0.02 0.05 -0.01|0.00 0.04 0.02 0.05 -0.01|-0.01 0.03 0.01 0.04 -0.02|-0.01 0.03 0.01 0.04 -0.02|-0.01 0.03 0.01 0.04 -0.02|-0.02 0.02 0.00 0.03 -0.03|-0.02 0.02 0.00 0.03 -0.03|-0.02 0.02 0.00 0.03 -0.03|-0.02 0.02 0.00 0.03 -0.03",
    "-0.02 0.02 0.00 0.03 -0.03|-0.02 0.02 0.00 0.03 -0.03|-0.03 0.01 -0.01 0.02 -0.04|-0.03 0.01 -0.01 0.02 -0.04|-0.03 0.01 -0.01 0.02 -0.04|-0.03 0.01 -0.01 0.02 -0.04|-0.03 0.01 -0.01 0.02 -0.04|-0.03 0.01 -0.01 0.02 -0.04|-0.03 0.01 -0.01 0.02 -0.04|-0.04 0.00 -0.02 0.01 -0.05",
    "-0.17 -0.02 -0.10 0.05 -0.22 -0.05|0.00 0.14 0.08 0.18 -0.03 0.11|0.06 0.18 0.12 0.22 0.04 0.15|0.02 0.10 0.06 0.12 0.00 0.08|-0.01 0.05 0.02 0.07 -0.02|-0.02 0.02 0.00 0.03 -0.03|-0.03 0.01 -0.01 0.02 -0.04|-0.04 0.00 -0.02 0.01 -0.05|-0.04 0.00 -0.02 0.01 -0.05|-0.04 0.00 -0.02 0.01 -0.05",
    "-0.05 -0.01 -0.03 0.00 -0.06|-0.05 -0.01 -0.03 0.00 -0.06|-0.05 -0.01 -0.03 0.00 -0.06|-0.05 -0.01 -0.03 0.00 -0.06|-0.05 -0.01 -0.03 0.00 -0.06|-0.04 0.00 -0.02 0.01 -0.05|-0.04 0.00 -0.02 0.01 -0.05|-0.03 0.01 -0.01 0.02 -0.04|-0.03 0.01 -0.01 0.02 -0.04|-0.02 0.02 0.00 0.03 -0.03",
    "-0.02 0.02 0.00 0.03 -0.03|-0.02 0.02 0.00 0.03 -0.03|-0.02 0.02 0.00 0.03 -0.03|-0.02 0.02 0.00 0.03 -0.03|-0.03 0.01 -0.01 0.02 -0.04|-0.03 0.01 -0.01 0.02 -0.04|-0.03 0.01 -0.01 0.02 -0.04|-0.04 0.00 -0.02 0.01 -0.05|-0.04 0.00 -0.02 0.01 -0.05|-0.04 0.00 -0.02 0.01 -0.05",
    "-0.04 0.00 -0.02 0.01 -0.05|-0.04 0.00 -0.02 0.01 -0.05|-0.05 -0.01 -0.03 0.00 -0.06|-0.05 -0.01 -0.03 0.00 -0.06|-0.05 -0.01 -0.03 0.00 -0.06|-0.06 -0.02 -0.04 -0.01 -0.07|-0.06 -0.02 -0.04 -0.01 -0.07|-0.07 -0.03 -0.05 -0.02 -0.08|-0.07 -0.03 -0.05 -0.02 -0.08|-0.07 -0.03 -0.05 -0.02 -0.08",
    "-0.08 -0.04 -0.06 -0.03 -0.09|-0.08 -0.04 -0.06 -0.03 -0.09|-0.08 -0.04 -0.06 -0.03 -0.09|-0.09 -0.05 -0.07 -0.04 -0.10|-0.13 -0.07 -0.10 -0.05 -0.15|-0.15 -0.09 -0.12 -0.07 -0.17|-0.09 -0.03 -0.06 -0.01 -0.11|-0.04 0.02 -0.01 0.04 -0.06|0.00 0.06 0.03 0.08 -0.02|0.02 0.08 0.05 0.10 0.00",
    "0.03 0.09 0.06 0.11 0.01|0.04 0.10 0.07 0.12 0.02|0.04 0.10 0.07 0.12 0.02|0.04 0.10 0.07 0.12 0.02|0.04 0.10 0.07 0.12 0.02|0.03 0.09 0.06 0.11 0.01|0.03 0.09 0.06 0.11 0.01|0.02 0.08 0.05 0.10 0.00|0.01 0.07 0.04 0.09 -0.01",
]
FIT3_A6 = [0.0, -0.005, -0.01, -0.015, -0.02, -0.02, -0.025, -0.025, -0.025,
           -0.03, -0.03, -0.03, -0.025, -0.015, 0.0, 0.015, 0.02]
FIT11_A6 = [0.02, 0.015, 0.01, 0.005, 0.0, -0.005, -0.005, -0.005, 0.0, 0.005,
            -0.01, -0.025, -0.03, -0.03, -0.02, -0.01, -0.005, -0.005, -0.01, -0.015,
            -0.02, -0.025, -0.03, -0.04, -0.05, -0.06, -0.04, 0.01, 0.05, 0.065,
            0.06, 0.045, 0.04]

# ----- a_k = 7 -----
MEAN_A7 = [0.09, 0.20, 0.08, -0.03, -0.22, -0.21, -0.13, -0.16, -0.18, -0.17,
           -0.12, -0.13, -0.11, -0.09, -0.07, -0.06, -0.05, -0.04, -0.04, -0.04,
           -0.04, -0.03, -0.01, 0.00, 0.01, 0.025, 0.04, 0.07, 0.08, 0.075,
           0.067, 0.067, 0.067, 0.07, 0.08, 0.09, 0.09, 0.09, 0.07, 0.05,
           0.035, 0.03, 0.025, 0.02, 0.015, 0.01, 0.01, 0.01, 0.01, 0.01,
           0.01, 0.00, -0.02, -0.03, -0.03, -0.03, -0.03, -0.03, -0.03, -0.05,
           -0.06, -0.067, -0.045, -0.065, -0.08, -0.10, -0.114, -0.11, -0.10, -0.05,
           0.05, -0.04, -0.08, 0.10, 0.12, 0.095, 0.095, 0.20, 0.08]
SIGMA_A7 = [0.08, 0.12, 0.12, 0.10, 0.05, 0.05, 0.04, 0.03, 0.02, 0.02,
            0.02, 0.02, 0.02, 0.02, 0.02, 0.02, 0.02, 0.02, 0.02, 0.02,
            0.02, 0.02, 0.02, 0.02, 0.02, 0.02, 0.02, 0.02, 0.02, 0.02,
            0.02, 0.02, 0.02, 0.02, 0.02, 0.02, 0.02, 0.02, 0.02, 0.02,
            0.02, 0.02, 0.02, 0.02, 0.02, 0.02, 0.02, 0.02, 0.02, 0.02,
            0.02, 0.02, 0.02, 0.02, 0.02, 0.02, 0.02, 0.02, 0.02, 0.02,
            0.02, 0.02, 0.02, 0.02, 0.02, 0.02, 0.02, 0.02, 0.02, 0.05,
            0.07, 0.08, 0.08, 0.06, 0.04, 0.03, 0.03, 0.08, 0.06]
DOTS_A7 = [
    "0.00 0.20 0.09 0.30 -0.05 0.15 0.45|0.08 0.30 0.20 0.38 0.02 0.25 0.50|-0.04 0.18 0.08 0.26 -0.10 0.13 -0.15|-0.13 0.06 -0.03 0.12 -0.20 0.02 -0.25|-0.27 -0.16 -0.22 -0.12 -0.28 -0.19 0.10|-0.27 -0.15 -0.21 -0.11 -0.28 -0.18 0.12|-0.18 -0.08 -0.13 -0.05 -0.21 -0.10 0.18|-0.20 -0.12 -0.16 -0.09 -0.22 -0.14|-0.21 -0.15 -0.18 -0.13 -0.23 -0.16|-0.20 -0.14 -0.17 -0.12 -0.22 -0.15",
    "-0.15 -0.09 -0.12 -0.07 -0.17|-0.16 -0.10 -0.13 -0.08 -0.18|-0.14 -0.08 -0.11 -0.06 -0.16|-0.12 -0.06 -0.09 -0.04 -0.14|-0.10 -0.04 -0.07 -0.02 -0.12|-0.09 -0.03 -0.06 -0.01 -0.11|-0.08 -0.02 -0.05 0.00 -0.10|-0.07 -0.01 -0.04 0.01 -0.09|-0.07 -0.01 -0.04 0.01 -0.09|-0.07 -0.01 -0.04 0.01 -0.09",
    "-0.07 -0.01 -0.04 0.01 -0.09|-0.06 0.00 -0.03 0.02 -0.08|-0.04 0.02 -0.01 0.04 -0.06|-0.03 0.03 0.00 0.05 -0.05|-0.02 0.04 0.01 0.06 -0.04|-0.01 0.06 0.02 0.08 -0.03|0.01 0.07 0.04 0.09 -0.01|0.04 0.10 0.07 0.12 0.02|0.05 0.11 0.08 0.13 0.03|0.04 0.11 0.07 0.13 0.02",
    "0.04 0.10 0.07 0.12 0.02|0.04 0.10 0.07 0.12 0.02|0.04 0.10 0.07 0.14 0.02|0.04 0.10 0.07 0.13 0.02|0.05 0.11 0.08 0.13 0.03|0.06 0.12 0.09 0.14 0.04|0.06 0.12 0.09 0.14 0.04|0.06 0.12 0.09 0.14 0.04|0.04 0.10 0.07 0.12 0.02|0.02 0.08 0.05 0.10 0.00",
    "0.01 0.06 0.03 0.08 -0.01|0.00 0.06 0.03 0.08 -0.02|0.00 0.05 0.02 0.07 -0.02|-0.01 0.05 0.02 0.07 -0.03|-0.01 0.04 0.01 0.06 -0.03|-0.02 0.04 0.01 0.06 -0.04|-0.02 0.04 0.01 0.06 -0.04|-0.02 0.04 0.01 0.06 -0.04|-0.02 0.04 0.01 0.06 -0.04|-0.02 0.04 0.01 0.06 -0.04",
    "-0.02 0.04 0.01 0.06 -0.04|-0.03 0.03 0.00 0.05 -0.05|-0.05 0.01 -0.02 0.03 -0.07|-0.06 0.00 -0.03 0.02 -0.08|-0.06 0.00 -0.03 0.02 -0.08|-0.06 0.00 -0.03 0.02 -0.08|-0.06 0.00 -0.03 0.02 -0.08|-0.06 0.00 -0.03 0.02 -0.08|-0.06 0.00 -0.03 0.02 -0.08|-0.08 -0.02 -0.05 0.00 -0.10",
    "-0.09 -0.03 -0.06 -0.01 -0.11|-0.10 -0.04 -0.07 -0.02 -0.12|-0.08 -0.02 -0.05 0.00 -0.10|-0.09 -0.04 -0.06 -0.02 -0.11|-0.11 -0.05 -0.08 -0.03 -0.13|-0.13 -0.07 -0.10 -0.05 -0.15|-0.14 -0.09 -0.11 -0.06 -0.16|-0.14 -0.08 -0.11 -0.06 -0.16|-0.13 -0.07 -0.10 -0.05 -0.15|-0.10 0.00 -0.05 0.04 -0.13",
    "-0.04 0.12 0.05 0.20 -0.08 0.08|-0.15 0.02 -0.04 0.08 -0.20 -0.08 0.15|-0.18 -0.02 -0.08 0.04 -0.22 -0.12 0.10|0.02 0.16 0.10 0.22 -0.02 0.13|0.06 0.17 0.12 0.20 0.03 0.14|0.05 0.14 0.10 0.17 0.03 0.12|0.05 0.14 0.10 0.17 0.03 0.12|0.10 0.28 0.20 0.35 0.05 0.24|0.02 0.14 0.08 0.18 -0.02 0.11",
]
FIT3_A7 = [-0.055, -0.05, -0.04, -0.02, 0.0, 0.02, 0.035, 0.045, 0.045, 0.04,
           0.027, 0.01, -0.01, -0.033, -0.053, -0.063, -0.067]
FIT11_A7 = [0.08, 0.01, -0.10, -0.155, -0.155, -0.114, -0.067, -0.044, -0.03, -0.003,
            0.033, 0.072, 0.089, 0.094, 0.089, 0.072, 0.055, 0.045, 0.035, 0.027,
            0.013, -0.01, -0.04, -0.075, -0.10, -0.112, -0.108, -0.075, 0.005, 0.075,
            0.10, 0.08, 0.072]

PANELS = [
    (MEAN_A1, SIGMA_A1, DOTS_A1, FIT3_A1, FIT11_A1),
    (MEAN_A2, SIGMA_A2, DOTS_A2, FIT3_A2, FIT11_A2),
    (MEAN_A3, SIGMA_A3, DOTS_A3, FIT3_A3, FIT11_A3),
    (MEAN_A4, SIGMA_A4, DOTS_A4, FIT3_A4, FIT11_A4),
    (MEAN_A5, SIGMA_A5, DOTS_A5, FIT3_A5, FIT11_A5),
    (MEAN_A6, SIGMA_A6, DOTS_A6, FIT3_A6, FIT11_A6),
    (MEAN_A7, SIGMA_A7, DOTS_A7, FIT3_A7, FIT11_A7),
]

# ---------------------------------------------------------------------------
# Styling
# ---------------------------------------------------------------------------
W, H = 1148, 1438
M_L, M_R, M_T, M_B = 82, 0, 14, 88
PLOT_W = W - M_L - M_R
PLOT_H = H - M_T - M_B
PANEL_GAP = 43
X_RANGE = [0, 15.58]
Y_RANGE = [-0.285, 1.0]

BG = "#e5e5e5"
MEAN_COLOR = "#0000ff"
BAND_FILL = "rgba(135,206,250,0.65)"
BAND_EDGE = "rgba(125,125,240,0.55)"
BAND_KEY = "rgba(150,205,240,1)"
DOT_COLOR = "rgba(0,0,0,0.6)"
N3_COLOR = "#fdbe5c"
N11_COLOR = "#8cb93c"
SERIF = "Liberation Serif"
SANS = "Lato"
TXT = "#111111"
NB = "\u00a0"
EQ = " \u2009=\u2009 "


def key(text, trail):
    """Legend label with the spacing used in each entry of the key."""
    return NB * 2 + text + NB * trail


def expand_dots(rows):
    """Place the samples of each bin side by side across the bin width."""
    cells = []
    for row in rows:
        cells.extend(row.split("|"))
    assert len(cells) == len(ETA)
    xs, ys = [], []
    for eta, cell in zip(ETA, cells):
        vals = [float(v) for v in cell.split()]
        n = len(vals)
        for j, v in enumerate(vals):
            xs.append(eta - BIN_WIDTH / 2 + (j + 0.5) * BIN_WIDTH / n)
            ys.append(v)
    return xs, ys


fig = make_subplots(rows=len(ACTIONS), cols=1,
                    vertical_spacing=PANEL_GAP / PLOT_H)

for i, (action, (mean, sigma, dots, fit3, fit11)) in enumerate(zip(ACTIONS, PANELS)):
    assert len(mean) == len(ETA) and len(sigma) == len(ETA)
    assert len(fit3) == len(ETA_N3) and len(fit11) == len(ETA_N11)
    row = i + 1
    leg = "legend" if i == 0 else f"legend{i + 1}"

    upper = [m + s for m, s in zip(mean, sigma)]
    lower = [m - s for m, s in zip(mean, sigma)]
    dx, dy = expand_dots(dots)

    fig.add_trace(go.Scatter(
        x=ETA, y=mean, mode="lines", name=key("<i>b\u0304</i>", 5),
        line=dict(color=MEAN_COLOR, width=1.6), legend=leg,
        legendrank=1), row=row, col=1)
    # sigma band (its key entry is drawn by a separate swatch trace)
    fig.add_trace(go.Scatter(
        x=ETA + ETA[::-1], y=upper + lower[::-1], mode="lines",
        fill="toself", fillcolor=BAND_FILL, showlegend=False,
        line=dict(color=BAND_EDGE, width=2, dash="dashdot")), row=row, col=1)
    fig.add_trace(go.Scatter(
        x=[None], y=[None], mode="lines", name=key("<i>σ</i>", 6),
        line=dict(color=BAND_KEY, width=14), legend=leg,
        legendrank=2), row=row, col=1)
    fig.add_trace(go.Scatter(
        x=dx, y=dy, mode="markers",
        name=key(f"(<i>e<sub>k</sub></i>, <i>η<sub>k</sub></i>, "
                 f"<i>a<sub>k</sub></i>{EQ}{action})", 6),
        marker=dict(color=DOT_COLOR, size=4.5, line=dict(width=0)), legend=leg,
        legendrank=3), row=row, col=1)
    # redraw the mean on top of the samples
    fig.add_trace(go.Scatter(
        x=ETA, y=mean, mode="lines", showlegend=False,
        line=dict(color=MEAN_COLOR, width=1.6)), row=row, col=1)
    fig.add_trace(go.Scatter(
        x=ETA_N3, y=fit3, mode="lines",
        name=key(f"<i>N<sup>b</sup></i>{EQ}3", 5),
        line=dict(color=N3_COLOR, width=4.5, shape="spline", smoothing=1.0),
        legend=leg, legendrank=4), row=row, col=1)
    fig.add_trace(go.Scatter(
        x=ETA_N11, y=fit11, mode="lines",
        name=key(f"<i>N<sup>b</sup></i>{EQ}11", 0),
        line=dict(color=N11_COLOR, width=4.5, shape="spline", smoothing=1.0),
        legend=leg, legendrank=5), row=row, col=1)

    xa = "xaxis" if i == 0 else f"xaxis{i + 1}"
    ya = "yaxis" if i == 0 else f"yaxis{i + 1}"
    y0, y1 = fig.layout[ya].domain

    fig.layout[xa].update(
        range=X_RANGE, tickvals=X_TICKS, showgrid=True, gridcolor="white",
        gridwidth=1.5, zeroline=False, showline=False, ticks="outside",
        ticklen=10, tickwidth=1.5, tickcolor="#222222",
        showticklabels=(row == len(ACTIONS)),
        tickfont=dict(family=SANS, size=23, color=TXT))
    fig.layout[ya].update(
        range=Y_RANGE, tickvals=Y_TICKS, showgrid=True, gridcolor="white",
        gridwidth=1.5, zeroline=False, showline=False, ticks="outside",
        ticklen=9, tickwidth=1.5, tickcolor="#222222",
        ticklabeloverflow="allow",
        tickfont=dict(family=SANS, size=23, color=TXT),
        title=dict(text=f"<span style='font-family:{SERIF}; font-size:30px'><i>e</i></span>{NB}(m)",
                   font=dict(family=SANS, size=28, color=TXT), standoff=10))

    legend_top_px = (1 - y1) * PLOT_H + 8
    fig.layout[leg] = dict(
        orientation="h", x=(305 - M_L) / PLOT_W, xanchor="left",
        y=1 - legend_top_px / PLOT_H, yanchor="top",
        bgcolor="rgba(229,229,229,0.8)", bordercolor="#cccccc", borderwidth=1,
        font=dict(family=SERIF, size=24, color=TXT),
        itemwidth=48, tracegroupgap=0, traceorder="normal")

    # keep a small gap between the panel edge and its tick marks
    fig.add_shape(type="rect", xref="paper", yref="paper",
                  x0=-0.002, x1=1.0, y0=y0 - 4 / PLOT_H, y1=y0,
                  fillcolor="white", line=dict(width=0), layer="above")
    fig.add_shape(type="rect", xref="paper", yref="paper",
                  x0=-3 / PLOT_W, x1=0, y0=y0 - 0.001, y1=y1 + 0.001,
                  fillcolor="white", line=dict(width=0), layer="above")

fig.layout[f"xaxis{len(ACTIONS)}"].title = dict(
    text=f"<span style='font-family:{SERIF}; font-size:30px'><i>η</i></span>{NB}(m)",
    font=dict(family=SANS, size=28, color=TXT), standoff=14)

fig.update_layout(
    width=W, height=H,
    margin=dict(l=M_L, r=M_R, t=M_T, b=M_B, autoexpand=False),
    plot_bgcolor=BG, paper_bgcolor="white", showlegend=True,
)

fig.write_html("out.html")
